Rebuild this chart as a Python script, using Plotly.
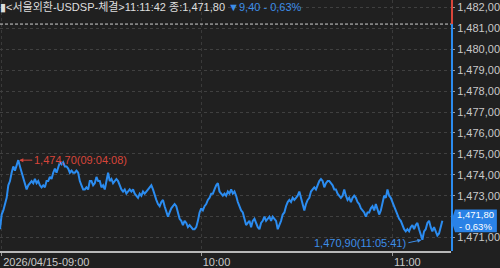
import plotly.graph_objects as go

# ---- data (USD/KRW spot, 2026/04/15 09:00 ~ 11:11:42) ----
price_a = [1471.4, 1472.1, 1472.3, 1472.6, 1472.9, 1473.5, 1473.7, 1474.1, 1474.4, 1474.2,
           1474.5, 1474.7, 1474.4, 1474.1, 1473.8, 1473.5, 1473.3, 1473.5, 1473.6, 1473.7,
           1473.6, 1473.8, 1473.6, 1473.7, 1473.5, 1473.4, 1473.5, 1473.4, 1473.7, 1473.7,
           1473.9, 1473.8, 1474.1, 1474.3, 1474.1, 1474.4, 1474.6, 1474.5, 1474.6, 1474.4,
           1474.4, 1474.3, 1474.1, 1474.2, 1474.1, 1474.1, 1474.2, 1474.1, 1473.7, 1473.5,
           1473.3, 1473.3, 1473.4, 1473.3, 1473.7, 1473.7, 1473.5, 1473.6, 1473.9, 1473.7,
           1473.7, 1473.4, 1473.5, 1473.3, 1473.8, 1474.1]
price_b = [1473.7, 1473.8, 1473.6, 1473.7, 1473.8, 1473.7, 1473.5, 1473.3, 1473.2, 1473.3,
           1473.1, 1473.2, 1473.3, 1473.2, 1473.3, 1473.1, 1473.0, 1472.9, 1473.1, 1473.0,
           1473.2, 1473.1, 1473.2, 1473.3, 1473.4, 1473.5, 1473.3, 1473.0, 1472.8, 1472.6,
           1472.5, 1472.7, 1472.8, 1472.5, 1472.2, 1472.0, 1472.2, 1472.4, 1472.5, 1472.6,
           1472.5, 1472.2, 1471.9, 1471.8, 1471.6, 1471.8, 1471.7, 1471.5, 1471.6, 1471.5,
           1471.4, 1471.4, 1471.5, 1471.8, 1472.2, 1472.4, 1472.3, 1472.5, 1472.6, 1472.8,
           1472.9, 1473.1, 1473.1, 1473.3, 1473.5, 1473.6]
price_c = [1473.2, 1473.1, 1473.0, 1473.1, 1473.0, 1473.2, 1473.1, 1473.3, 1473.1, 1473.2,
           1473.0, 1472.7, 1472.5, 1472.3, 1472.2, 1471.9, 1471.6, 1471.7, 1471.8, 1471.5,
           1471.8, 1471.9, 1471.7, 1471.5, 1471.4, 1471.7, 1471.8, 1472.0, 1471.8, 1471.9,
           1472.0, 1471.8, 1472.0, 1471.9, 1471.8, 1471.4, 1471.6, 1471.8, 1472.1, 1472.2,
           1472.5, 1472.7, 1472.8, 1472.7, 1472.9, 1472.8, 1472.9, 1473.0, 1473.2, 1472.9,
           1472.5, 1472.3, 1472.6, 1472.8, 1472.9, 1473.2, 1473.3, 1473.4, 1473.3, 1473.5,
           1473.7, 1473.8, 1473.7, 1473.4, 1473.6, 1473.7]
price_d = [1473.7, 1473.6, 1473.5, 1473.3, 1473.3, 1473.1, 1473.0, 1472.9, 1473.0, 1473.3,
           1473.0, 1472.8, 1472.9, 1472.7, 1472.9, 1473.0, 1472.9, 1472.7, 1472.6, 1472.4,
           1472.3, 1472.2, 1472.0, 1472.2, 1472.2, 1472.4, 1472.5, 1472.3, 1472.6, 1472.3,
           1472.1, 1472.3, 1472.6, 1473.0, 1472.9, 1473.3, 1473.0, 1472.9, 1472.7, 1472.5,
           1472.3, 1472.1, 1471.9, 1471.8, 1471.6, 1471.4, 1471.3, 1471.4, 1471.3, 1471.5,
           1471.6, 1471.4, 1471.6, 1471.7, 1471.4, 1471.1, 1470.9, 1471.3, 1471.4, 1471.7,
           1471.8, 1471.5, 1471.3, 1471.5, 1471.3, 1471.1, 1471.2, 1471.5, 1471.8]

prev_close = 1481.20
last_price = 1471.80
high_label = "1,474,70(09:04:08)"
low_label = "1,470,90(11:05:41)"

x_tick_pos = [1, 121, 236]
x_tick_text = ["2026/04/15-09:00", "10:00", "11:00"]
y_ticks = [1471, 1472, 1473, 1474, 1475, 1476, 1477, 1478, 1479, 1480, 1481, 1482]
# the 1,472,00 label sits under the current-price tag, so it is left blank
y_tick_text = ["1,471,00", "", "1,473,00", "1,474,00", "1,475,00", "1,476,00",
               "1,477,00", "1,478,00", "1,479,00", "1,480,00", "1,481,00", "1,482,00"]

title_text = ("▮&lt;서울외환-USDSP-체결&gt;11:11:42 종:1,471,80 "
              "<span style='color:#3d8ee8'>▼9,40 - 0,63%</span>")
box_text = "1,471,80<br>- 0,63%"

# ---- build ----
prices = price_a + price_b + price_c + price_d
idx = list(range(len(prices)))
hi_i = prices.index(max(prices))
lo_i = prices.index(min(prices))

BG = "#202020"
BLUE = "#2b8cf0"
RED = "#d8453a"
TXT = "#c9c9c9"
FONT = "Liberation Sans Narrow, Liberation Sans, Noto Sans CJK KR"

Y_RANGE = [1470.36, 1482.35]
X_RANGE = [0, 271.2]

fig = go.Figure()
fig.add_trace(go.Scatter(x=idx, y=prices, mode="lines",
                         line=dict(color=BLUE, width=2), hoverinfo="skip",
                         showlegend=False))

fig.update_layout(
    width=500, height=268,
    margin=dict(l=0, r=48, t=0, b=15),
    paper_bgcolor=BG, plot_bgcolor=BG,
    font=dict(family=FONT, size=11, color=TXT),
    showlegend=False,
    xaxis=dict(range=X_RANGE, tickmode="array", tickvals=x_tick_pos, ticktext=x_tick_text,
               ticks="outside", ticklen=3, tickcolor="#9a9a9a",
               ticklabelposition="outside right",
               showgrid=True, gridcolor="#3a3a3a", griddash="dot", gridwidth=1,
               showline=True, linecolor="#b8b8b8", linewidth=2, zeroline=False,
               tickfont=dict(family=FONT, size=11, color=TXT)),
    yaxis=dict(range=Y_RANGE, side="right", tickmode="array", tickvals=y_ticks,
               ticktext=y_tick_text, ticks="outside", ticklen=3, tickcolor="#9a9a9a",
               showgrid=True, gridcolor="#404040", griddash="dot", gridwidth=1,
               showline=False, zeroline=False,
               tickfont=dict(family=FONT, size=11, color=TXT)),
)

px_w = 452.0
shapes = [
    dict(type="line", xref="paper", yref="y", x0=0, x1=1, y0=prev_close, y1=prev_close,
         line=dict(color="#d0d0d0", width=1, dash="3px,2px")),
    dict(type="line", xref="paper", yref="y", x0=1 + 1 / px_w, x1=1 + 1 / px_w,
         y0=Y_RANGE[0], y1=prev_close, line=dict(color=BLUE, width=2)),
    dict(type="line", xref="paper", yref="y", x0=1 + 1 / px_w, x1=1 + 1 / px_w,
         y0=prev_close, y1=Y_RANGE[1], line=dict(color=RED, width=2)),
]
xl = 1 + 4 / px_w
xr = 1 + 46 / px_w
xt = 1 + 0.5 / px_w
yt = last_price + 0.54
yb = last_price - 0.54
shapes.append(dict(type="path", xref="paper", yref="y", layer="above",
                   path=f"M {xt},{last_price} L {xl},{yt} L {xr},{yt} L {xr},{yb} L {xl},{yb} Z",
                   fillcolor="#2a82e6", line=dict(width=0)))
fig.update_layout(shapes=shapes)

annotations = [
    dict(xref="paper", yref="paper", x=0, y=1, xanchor="left", yanchor="top",
         text=title_text, showarrow=False, yshift=1, xshift=-2,
         font=dict(family=FONT, size=11, color="#dedede")),
    dict(x=hi_i, y=prices[hi_i], xref="x", yref="y", text=high_label,
         showarrow=True, ax=14, ay=0, xanchor="left", arrowhead=2, arrowsize=0.8,
         arrowwidth=1, arrowcolor=RED, standoff=1,
         font=dict(family=FONT, size=11, color=RED)),
    dict(x=lo_i, y=prices[lo_i], xref="x", yref="y", text=low_label,
         showarrow=True, ax=-14, ay=3, xanchor="right", arrowhead=2, arrowsize=0.8,
         arrowwidth=1, arrowcolor="#3d8ee8", standoff=1,
         font=dict(family=FONT, size=11, color="#3d8ee8")),
    dict(xref="paper", yref="y", x=1 + 25 / px_w, y=last_price, text=box_text,
         showarrow=False, xanchor="center", yanchor="middle", borderpad=0,
         font=dict(family=FONT, size=9.5, color="#ffffff")),
]
fig.update_layout(annotations=annotations)

fig.write_html("out.html")
